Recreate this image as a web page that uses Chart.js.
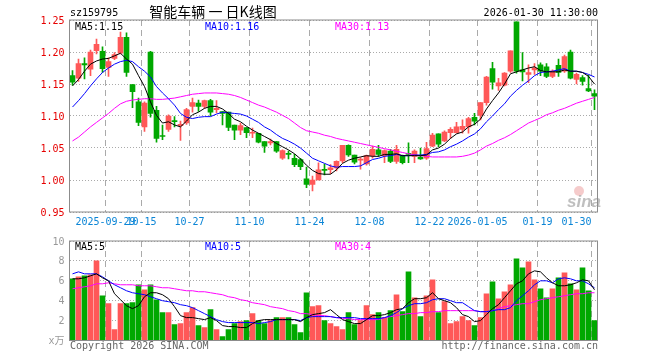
<!DOCTYPE html>
<html>
<head>
<meta charset="utf-8">
<script src="https://cdn.jsdelivr.net/npm/chart.js@4.4.0/dist/chart.umd.min.js"></script>
<style>
  body { margin: 0; background: #fff; }
  #wrap { width: 660px; height: 360px; }
  canvas { display: block; }
</style>
</head>
<body>
<div id="wrap">
  <canvas id="kline" width="660" height="230"></canvas>
  <canvas id="vol" width="660" height="130"></canvas>
</div>
<script>
// trading days
const dates = [
  '2025-09-19','2025-09-22','2025-09-23','2025-09-24','2025-09-25','2025-09-26','2025-09-29','2025-09-30','2025-10-09','2025-10-10',
  '2025-10-13','2025-10-14','2025-10-15','2025-10-16','2025-10-17','2025-10-20','2025-10-21','2025-10-22','2025-10-23','2025-10-24',
  '2025-10-27','2025-10-28','2025-10-29','2025-10-30','2025-10-31','2025-11-03','2025-11-04','2025-11-05','2025-11-06','2025-11-07',
  '2025-11-10','2025-11-11','2025-11-12','2025-11-13','2025-11-14','2025-11-17','2025-11-18','2025-11-19','2025-11-20','2025-11-21',
  '2025-11-24','2025-11-25','2025-11-26','2025-11-27','2025-11-28','2025-12-01','2025-12-02','2025-12-03','2025-12-04','2025-12-05',
  '2025-12-08','2025-12-09','2025-12-10','2025-12-11','2025-12-12','2025-12-15','2025-12-16','2025-12-17','2025-12-18','2025-12-19',
  '2025-12-22','2025-12-23','2025-12-24','2025-12-25','2025-12-26','2025-12-29','2025-12-30','2025-12-31','2026-01-05','2026-01-06',
  '2026-01-07','2026-01-08','2026-01-09','2026-01-12','2026-01-13','2026-01-14','2026-01-15','2026-01-16','2026-01-19','2026-01-20',
  '2026-01-21','2026-01-22','2026-01-23','2026-01-26','2026-01-27','2026-01-28','2026-01-29','2026-01-30'
];

const tickDates = ['2025-09-29','2025-10-15','2025-10-27','2025-11-10','2025-11-24','2025-12-08','2025-12-22','2026-01-05','2026-01-19','2026-01-30'];
const tickText  = ['2025-09-29','10-15','10-27','11-10','11-24','12-08','12-22','2026-01-05','01-19','01-30'];

const opens = [
  1.163,1.159,1.182,1.173,1.202,1.201,1.176,1.190,1.198,1.223,
  1.149,1.122,1.083,1.200,1.109,1.069,1.079,1.093,1.085,1.089,
  1.115,1.120,1.115,1.124,1.110,1.107,1.106,1.086,1.078,1.082,
  1.073,1.073,1.060,1.058,1.060,1.034,1.041,1.034,1.032,1.002,
  0.993,1.000,1.016,1.016,1.019,1.030,1.054,1.039,1.031,1.025,
  1.038,1.047,1.038,1.045,1.029,1.038,1.041,1.037,1.036,1.034,
  1.053,1.072,1.061,1.074,1.074,1.079,1.083,1.098,1.101,1.121,
  1.174,1.147,1.148,1.170,1.247,1.172,1.165,1.172,1.180,1.177,
  1.162,1.179,1.170,1.200,1.157,1.160,1.143,1.135
];
const highs = [
  1.171,1.189,1.191,1.203,1.220,1.208,1.191,1.199,1.231,1.230,
  1.149,1.128,1.122,1.201,1.115,1.086,1.102,1.099,1.092,1.112,
  1.128,1.125,1.125,1.126,1.124,1.107,1.106,1.086,1.089,1.082,
  1.081,1.073,1.060,1.064,1.060,1.047,1.045,1.040,1.034,1.020,
  1.006,1.027,1.025,1.024,1.030,1.054,1.055,1.039,1.035,1.039,
  1.053,1.054,1.047,1.048,1.054,1.039,1.058,1.047,1.050,1.059,
  1.073,1.072,1.077,1.082,1.090,1.094,1.098,1.104,1.121,1.162,
  1.184,1.159,1.168,1.202,1.247,1.199,1.180,1.182,1.183,1.182,
  1.172,1.189,1.195,1.203,1.167,1.163,1.164,1.141
];
const lows = [
  1.148,1.154,1.158,1.163,1.197,1.168,1.162,1.188,1.197,1.162,
  1.113,1.085,1.076,1.098,1.059,1.063,1.076,1.083,1.062,1.087,
  1.106,1.107,1.112,1.100,1.105,1.086,1.077,1.063,1.071,1.066,
  1.066,1.058,1.043,1.055,1.043,1.032,1.033,1.021,1.016,0.988,
  0.983,1.000,1.008,1.010,1.014,1.027,1.037,1.025,1.017,1.023,
  1.034,1.037,1.027,1.027,1.026,1.025,1.027,1.027,1.032,1.032,
  1.052,1.052,1.060,1.065,1.073,1.073,1.073,1.086,1.094,1.117,
  1.142,1.140,1.147,1.168,1.167,1.155,1.152,1.165,1.163,1.160,
  1.160,1.162,1.168,1.158,1.150,1.148,1.138,1.110
];
const closes = [
  1.153,1.182,1.180,1.200,1.212,1.174,1.185,1.196,1.223,1.168,
  1.138,1.090,1.120,1.104,1.065,1.068,1.100,1.091,1.087,1.110,
  1.121,1.115,1.124,1.106,1.112,1.104,1.082,1.078,1.085,1.074,
  1.074,1.059,1.053,1.060,1.045,1.046,1.040,1.024,1.021,0.993,
  1.000,1.016,1.015,1.019,1.029,1.054,1.039,1.028,1.032,1.038,
  1.048,1.040,1.046,1.029,1.048,1.027,1.040,1.045,1.033,1.049,
  1.070,1.056,1.075,1.079,1.083,1.084,1.096,1.092,1.121,1.161,
  1.153,1.152,1.167,1.202,1.170,1.169,1.168,1.175,1.170,1.162,
  1.170,1.168,1.193,1.159,1.165,1.154,1.139,1.131
];

// price moving averages as drawn
const ma5 = [
  1.147,1.157,1.170,1.181,1.186,1.189,1.190,1.194,1.198,1.189,
  1.181,1.163,1.146,1.122,1.101,1.089,1.091,1.086,1.083,1.092,
  1.102,1.106,1.112,1.115,1.115,1.111,1.104,1.095,1.091,1.084,
  1.078,1.073,1.068,1.063,1.057,1.052,1.047,1.041,1.033,1.023,
  1.015,1.010,1.009,1.009,1.016,1.026,1.031,1.034,1.036,1.038,
  1.037,1.037,1.040,1.040,1.041,1.038,1.038,1.038,1.038,1.039,
  1.047,1.050,1.056,1.065,1.072,1.075,1.083,1.087,1.095,1.111,
  1.124,1.136,1.150,1.166,1.169,1.172,1.175,1.177,1.171,1.169,
  1.169,1.169,1.172,1.170,1.170,1.168,1.162,1.150
];
const ma10 = [
  1.114,1.124,1.135,1.147,1.158,1.168,1.175,1.181,1.185,1.187,
  1.185,1.177,1.170,1.161,1.146,1.136,1.127,1.117,1.104,1.098,
  1.096,1.098,1.099,1.099,1.103,1.106,1.105,1.104,1.103,1.100,
  1.095,1.090,1.083,1.078,1.071,1.065,1.061,1.056,1.050,1.042,
  1.034,1.030,1.026,1.022,1.020,1.021,1.021,1.021,1.022,1.027,
  1.032,1.034,1.037,1.038,1.040,1.038,1.038,1.039,1.039,1.040,
  1.043,1.044,1.047,1.052,1.056,1.061,1.067,1.072,1.080,1.091,
  1.100,1.110,1.119,1.131,1.140,1.148,1.155,1.163,1.168,1.169,
  1.170,1.172,1.174,1.170,1.170,1.168,1.165,1.161
];
const ma30 = [
  1.061,1.067,1.075,1.083,1.090,1.097,1.104,1.112,1.119,1.123,
  1.125,1.126,1.127,1.127,1.126,1.126,1.127,1.128,1.130,1.132,
  1.134,1.135,1.136,1.136,1.136,1.135,1.134,1.132,1.129,1.125,
  1.121,1.117,1.114,1.110,1.106,1.101,1.096,1.089,1.082,1.077,
  1.075,1.073,1.070,1.068,1.065,1.063,1.061,1.059,1.057,1.055,
  1.053,1.051,1.049,1.047,1.045,1.043,1.041,1.039,1.038,1.037,
  1.036,1.036,1.036,1.036,1.036,1.037,1.039,1.042,1.047,1.053,
  1.057,1.062,1.066,1.071,1.077,1.083,1.089,1.093,1.097,1.102,
  1.105,1.109,1.112,1.116,1.120,1.123,1.126,1.129
];

// volume, 万
const volumes = [
  6.2,6.4,6.5,6.6,8.0,4.5,3.7,1.1,3.7,3.7,
  3.8,5.6,5.1,5.6,4.1,2.8,2.8,1.6,1.7,2.8,
  3.3,1.5,1.3,3.1,1.1,0.4,1.1,1.7,1.9,2.0,
  2.7,2.0,1.7,2.0,2.3,2.3,2.3,1.6,0.8,4.8,
  3.4,3.5,2.0,1.7,1.4,1.1,2.8,1.6,2.0,3.5,
  2.6,2.8,2.3,3.0,4.6,2.9,6.9,4.3,2.4,4.5,
  6.1,2.8,3.9,1.7,1.9,2.4,2.0,1.5,2.3,4.7,
  5.9,4.2,4.9,5.6,8.2,7.3,7.9,6.1,5.2,4.3,
  5.2,6.3,6.8,5.7,5.1,7.3,5.0,2.0
];
const volMa5 = [
  6.2,6.2,6.3,6.5,6.7,6.3,6.0,4.7,4.1,3.5,
  3.2,3.5,4.4,4.8,4.8,4.6,4.2,3.4,2.5,2.3,
  2.3,2.2,2.1,2.3,2.0,1.5,1.4,1.4,1.3,1.3,
  1.7,2.0,2.1,2.1,2.1,2.1,2.1,2.1,1.9,2.3,
  2.6,2.7,2.8,3.1,2.6,2.1,1.9,1.7,1.7,2.1,
  2.5,2.5,2.6,2.8,3.1,3.2,3.8,4.2,4.2,4.3,
  4.8,4.2,4.0,3.8,3.3,2.6,2.4,1.9,2.0,2.6,
  3.2,3.6,4.3,5.0,5.7,6.0,6.7,7.0,6.9,6.3,
  5.8,5.5,5.5,5.6,5.8,6.1,6.0,5.1
];
const volMa10 = [
  6.7,6.9,6.7,6.7,6.7,6.4,6.0,5.6,5.3,5.0,
  4.8,4.7,4.6,4.4,4.2,4.0,3.9,3.8,3.6,3.5,
  3.3,3.0,2.7,2.4,2.1,1.9,1.8,1.8,1.8,1.8,
  1.8,1.7,1.8,1.9,2.1,2.1,2.1,2.1,2.0,2.3,
  2.4,2.4,2.4,2.4,2.3,2.3,2.3,2.3,2.2,2.2,
  2.2,2.2,2.3,2.5,2.8,3.2,3.5,3.7,3.7,3.8,
  4.1,4.2,4.2,4.0,3.8,3.8,3.4,3.0,2.9,2.9,
  3.0,3.1,3.1,3.3,4.0,4.5,5.0,5.6,6.0,6.0,
  5.8,6.2,6.3,6.2,6.0,6.0,5.7,5.3
];
const volMa30 = [
  5.2,5.3,5.4,5.5,5.7,5.7,5.8,5.7,5.6,5.6,
  5.6,5.5,5.5,5.5,5.4,5.3,5.3,5.2,5.1,5.0,
  5.0,4.9,4.9,4.8,4.7,4.6,4.4,4.3,4.1,4.0,
  3.8,3.7,3.6,3.4,3.3,3.2,3.0,2.9,2.7,2.7,
  2.6,2.5,2.5,2.4,2.3,2.2,2.2,2.1,2.1,2.1,
  2.1,2.1,2.3,2.4,2.5,2.6,2.7,2.7,2.8,2.8,
  2.9,2.9,3.0,3.0,3.0,3.0,3.0,3.0,2.9,2.9,
  3.0,3.2,3.4,3.5,3.6,3.7,3.7,3.9,4.1,4.2,
  4.3,4.4,4.5,4.6,4.7,4.7,4.8,4.8
];

const upColor = '#ff5858';
const downColor = '#00a800';
const mono = '"DejaVu Sans Mono", "Liberation Mono", monospace';
const candleColors = closes.map((c, i) => c >= opens[i] ? upColor : downColor);
const gridIdx = tickDates.map(d => dates.indexOf(d));

const text = (ctx, str, x, y, color, font, align) => {
    ctx.save();
    ctx.fillStyle = color;
    ctx.font = font;
    ctx.textAlign = align || 'left';
    ctx.textBaseline = 'alphabetic';
    ctx.fillText(str, x, y);
    ctx.restore();
};

const frame = chart => {
    const a = chart.chartArea;
    const ctx = chart.ctx;
    ctx.save();
    ctx.strokeStyle = '#8c8c8c';
    ctx.lineWidth = 1;
    ctx.strokeRect(a.left, a.top, a.right - a.left, a.bottom - a.top);
    ctx.restore();
};

const xScale = () => ({
    offset: true,
    grid: {
        offset: true,
        drawTicks: false,
        lineWidth: 1,
        color: c => gridIdx.includes(c.index) ? '#aaa' : 'transparent'
    },
    border: { display: false, dash: [6, 4] },
    ticks: { display: false, autoSkip: false }
});

const lineSet = (data, color) => ({
    type: 'line',
    data: data,
    borderColor: color,
    borderWidth: 1,
    pointRadius: 0,
    fill: false,
    order: 0
});

const klinePlugin = {
    id: 'klineText',
    beforeDatasetsDraw(chart) {
        const ctx = chart.ctx;
        // sina watermark
        ctx.save();
        ctx.fillStyle = 'rgba(236,160,160,0.55)';
        ctx.beginPath();
        ctx.arc(579, 191, 5, 0, Math.PI * 2);
        ctx.fill();
        ctx.restore();
        text(ctx, 'sina', 567, 207, 'rgba(170,170,170,0.75)', 'italic bold 17px "Liberation Sans", Arial', 'left');
    },
    afterDraw(chart) {
        const ctx = chart.ctx;
        frame(chart);
        text(ctx, 'sz159795', 70, 16, '#000', '10px ' + mono);
        text(ctx, '智能车辆 一 日K线图', 213, 17, '#000', '14px "Noto Sans CJK SC"', 'center');
        text(ctx, '2026-01-30 11:30:00', 598, 16, '#000', '10px ' + mono, 'right');
        text(ctx, 'MA5:1.15', 75, 30, '#000', '10px ' + mono);
        text(ctx, 'MA10:1.16', 205, 30, '#0000ff', '10px ' + mono);
        text(ctx, 'MA30:1.13', 335, 30, '#ff00ff', '10px ' + mono);

        const xs = chart.scales.x;
        const half = (xs.getPixelForValue(1) - xs.getPixelForValue(0)) / 2;
        tickDates.forEach((d, k) => {
            const px = xs.getPixelForValue(dates.indexOf(d)) - half;
            const last = k === tickDates.length - 1;
            text(ctx, tickText[k], px, 225, '#0b85d6', '10px ' + mono, last ? 'right' : 'center');
        });
    }
};

const volPlugin = {
    id: 'volText',
    afterDraw(chart) {
        const ctx = chart.ctx;
        frame(chart);
        text(ctx, 'MA5:5', 75, 20, '#000', '10px ' + mono);
        text(ctx, 'MA10:5', 205, 20, '#0000ff', '10px ' + mono);
        text(ctx, 'MA30:4', 335, 20, '#ff00ff', '10px ' + mono);
        text(ctx, 'Copyright 2026 SINA.COM', 70, 119, '#666', '10px ' + mono);
        text(ctx, 'http://finance.sina.com.cn', 598, 119, '#666', '10px ' + mono, 'right');
    }
};

let klineChart = new Chart(document.getElementById('kline'), {
    type: 'bar',
    data: {
        labels: dates,
        datasets: [
            lineSet(ma5, '#000000'),
            lineSet(ma10, '#0000ff'),
            lineSet(ma30, '#ff00ff'),
            {
                data: lows.map((l, i) => [l, highs[i]]),
                backgroundColor: candleColors,
                barThickness: 1,
                grouped: false,
                order: 2
            },
            {
                data: opens.map((o, i) => [o, closes[i]]),
                backgroundColor: candleColors,
                barThickness: 5,
                minBarLength: 1,
                grouped: false,
                order: 1
            }
        ]
    },
    options: {
        responsive: false,
        animation: false,
        layout: { padding: { top: 20, right: 62.5, left: 0, bottom: 0 } },
        plugins: { legend: { display: false }, tooltip: { enabled: false } },
        scales: {
            x: Object.assign(xScale(), { afterFit: s => { s.height = 18; } }),
            y: {
                min: 0.95,
                max: 1.25,
                ticks: {
                    stepSize: 0.05,
                    color: '#e60000',
                    padding: 5,
                    labelOffset: 1,
                    font: { family: mono, size: 10 },
                    callback: v => v.toFixed(2)
                },
                grid: { color: '#aaa', drawTicks: false },
                border: { display: false, dash: [1, 2] },
                afterFit: s => { s.width = 69.5; }
            }
        }
    },
    plugins: [klinePlugin]
});

let volChart = new Chart(document.getElementById('vol'), {
    type: 'bar',
    data: {
        labels: dates,
        datasets: [
            lineSet(volMa5, '#000000'),
            lineSet(volMa10, '#0000ff'),
            lineSet(volMa30, '#ff00ff'),
            {
                data: volumes,
                backgroundColor: candleColors,
                barThickness: 5,
                grouped: false,
                order: 1
            }
        ]
    },
    options: {
        responsive: false,
        animation: false,
        layout: { padding: { top: 10, right: 62.5, left: 0, bottom: 0 } },
        plugins: { legend: { display: false }, tooltip: { enabled: false } },
        scales: {
            x: Object.assign(xScale(), { afterFit: s => { s.height = 19.5; } }),
            y: {
                min: 0,
                max: 10,
                ticks: {
                    stepSize: 2,
                    color: '#999',
                    padding: 5,
                    labelOffset: 1,
                    font: { family: mono + ', "Noto Sans CJK SC"', size: 10 },
                    callback: v => v === 0 ? 'x万' : v
                },
                grid: { color: '#aaa', drawTicks: false },
                border: { display: false, dash: [1, 2] },
                afterFit: s => { s.width = 69.5; }
            }
        }
    },
    plugins: [volPlugin]
});
</script>
</body>
</html>
